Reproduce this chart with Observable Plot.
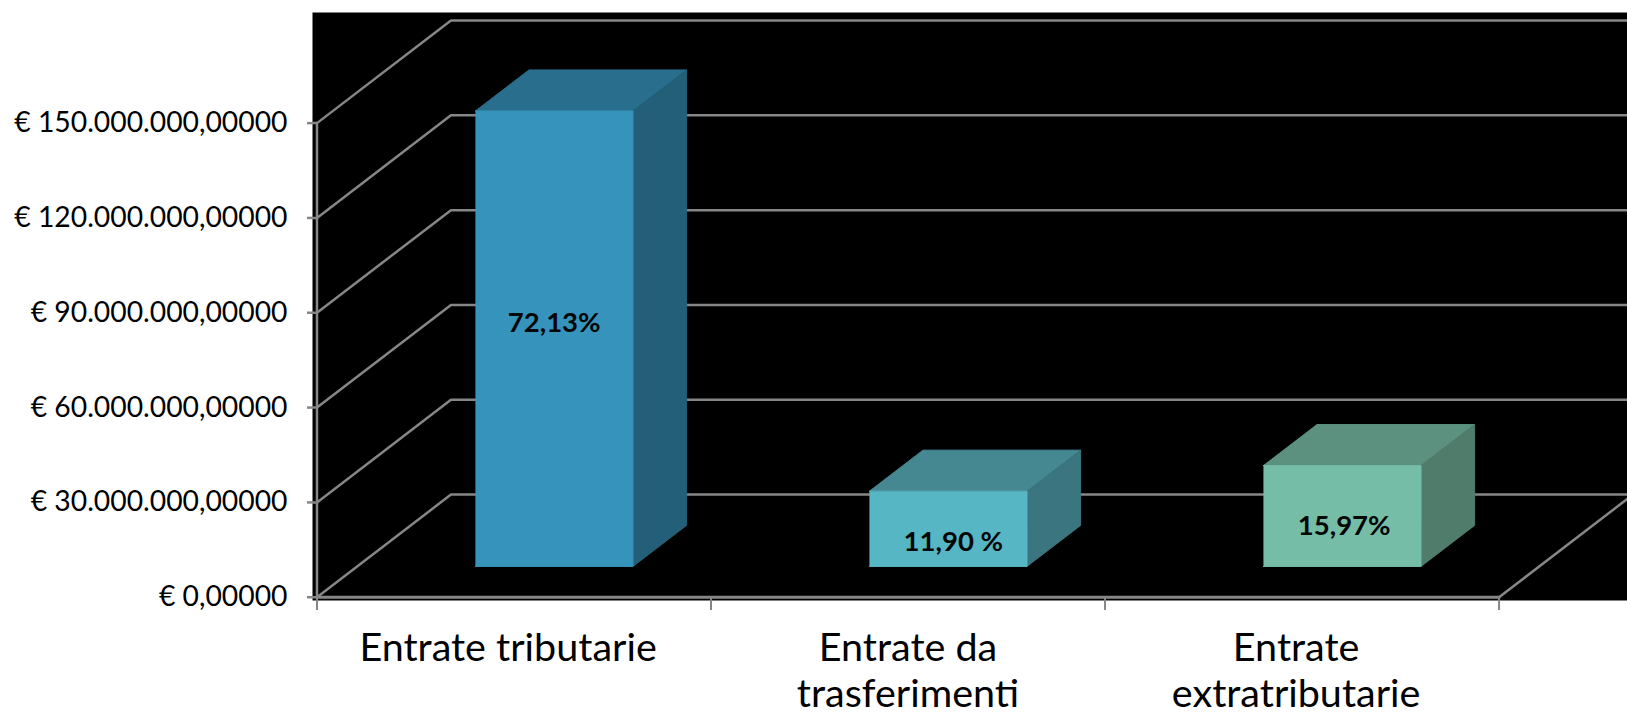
<!DOCTYPE html>
<html><head><meta charset="utf-8">
<style>html,body{margin:0;padding:0;background:#fff}svg{display:block}</style>
<script src="https://cdn.jsdelivr.net/npm/d3@7"></script>
<script src="https://cdn.jsdelivr.net/npm/@observablehq/plot@0.6"></script>
</head><body><div id="chart"></div>
<script>
const categories = ["Entrate tributarie", "Entrate da\ntrasferimenti", "Entrate\nextratributarie"];
const values = [144100000, 23800000, 31900000];
const shares = ["72,13%", "11,90 %", "15,97%"];
const shareLabelHeights = [86600000, 17400000, 22500000];
const tickValues = [0, 30000000, 60000000, 90000000, 120000000, 150000000];
const tickLabels = ["€ 0,00000", "€ 30.000.000,00000", "€ 60.000.000,00000", "€ 90.000.000,00000", "€ 120.000.000,00000", "€ 150.000.000,00000"];
const frontColors = ["#3593bc", "#57b6c3", "#75bda7"];
const sideColors = ["#235f78", "#3a7580", "#4f7c6b"];
const topColors = ["#2a6e8d", "#468892", "#5c917f"];

const GRID = "#868686";
const xMin = -0.0114, xMax = 3.326, yMin = -1040000, yMax = 185000000;
const depthX = 0.34, depthY = 32470000;       // oblique projection of the depth axis, in scale units
const P = (x, v, d) => [x + depthX * d, v + depthY * d];

const marks = [Plot.frame({fill: "#000", stroke: null})];

// walls and floor
tickValues.forEach(v => {
  marks.push(Plot.line([[xMin, v], P(0, v, 0), P(0, v, 1), [xMax, v + depthY]], {stroke: GRID, strokeWidth: 2.5, clip: true}));
});
marks.push(Plot.line([P(3, 0, 0), P(3, 0, 1)], {stroke: GRID, strokeWidth: 2.5, clip: true}));

// bars
const face = (pts, fill) => Plot.line(pts, {fill, stroke: fill, strokeWidth: 1, clip: true});
values.forEach((v, i) => {
  const a = i + 0.5 - 0.2, b = i + 0.5 + 0.2, d0 = 0.3, d1 = 0.7;
  marks.push(face([P(a, v, d0), P(a, v, d1), P(b, v, d1), P(b, v, d0)], topColors[i]));
  marks.push(face([P(b, 0, d0), P(b, 0, d1), P(b, v, d1), P(b, v, d0)], sideColors[i]));
  marks.push(face([P(a, 0, d0), P(b, 0, d0), P(b, v, d0), P(a, v, d0)], frontColors[i]));
});

// front axes
marks.push(Plot.line([[0, 0], [0, 150000000]], {stroke: GRID, strokeWidth: 2.5}));
marks.push(Plot.line([[0, 0], [3, 0]], {stroke: GRID, strokeWidth: 3}));
marks.push(Plot.ruleX([0, 1, 2, 3], {y1: yMin, y2: 0, stroke: GRID, strokeWidth: 2}));

marks.push(Plot.axisY({
  anchor: "left", ticks: tickValues, tickSize: 5, tickPadding: 20, label: null,
  tickFormat: v => tickLabels[tickValues.indexOf(v)],
  stroke: GRID, fill: "#000", fontSize: 28.3, strokeWidth: 2.5
}));
marks.push(Plot.axisX({
  anchor: "bottom", ticks: [0, 1, 2, 3], tickSize: 10, label: null, tickFormat: () => "",
  stroke: GRID, strokeWidth: 2
}));

// share labels
marks.push(Plot.text(shares, {
  x: (d, i) => i + 0.5 + 0.3 * depthX + (i === 1 ? 0.013 : i === 2 ? 0.005 : 0),
  y: (d, i) => shareLabelHeights[i],
  text: d => d, fontSize: 27.5, fontWeight: 700, fill: "#060606"
}));

// category labels
marks.push(Plot.text(categories, {
  x: (d, i) => i + 0.5 - (i === 1 ? 0 : 0.015),
  y: () => yMin, text: d => d,
  lineAnchor: "top", dy: 28, fontSize: 39.5, lineHeight: 1.165, fill: "#000"
}));

const chart = Plot.plot({
  width: 1627, height: 715,
  marginLeft: 312, marginRight: 0, marginTop: 12, marginBottom: 115,
  x: {type: "linear", domain: [xMin, xMax], axis: null},
  y: {type: "linear", domain: [yMin, yMax], axis: null},
  style: {background: "#fff", fontFamily: "Lato", overflow: "hidden"},
  marks
});
document.getElementById("chart").append(chart);
</script></body></html>
